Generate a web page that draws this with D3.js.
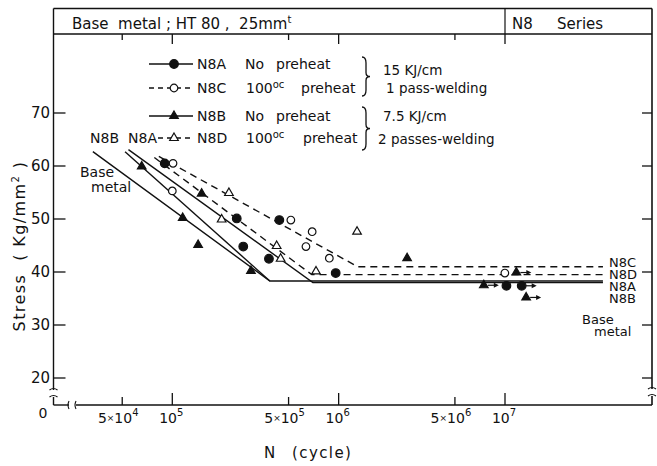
<!DOCTYPE html>
<html><head><meta charset="utf-8">
<script src="https://cdn.jsdelivr.net/npm/d3@7"></script>
<style>
html,body{margin:0;padding:0;background:#fff;}
svg text{font-family:"DejaVu Sans",sans-serif;fill:#111;white-space:pre;}
</style></head>
<body><svg id="c" width="657" height="466"></svg>
<script>
// ---------------- data ----------------
const xTickValues = [5e4, 1e5, 5e5, 1e6, 5e6, 1e7];
const xTickMant = ["5", "", "5", "", "5", ""];
const xTickExp = ["4", "5", "5", "6", "6", "7"];
const yTickValues = [20, 30, 40, 50, 60, 70];

// N8A : 15 KJ/cm, no preheat (filled circles)
const n8aN = [9.0e4, 2.44e5, 4.4e5, 2.67e5, 3.81e5, 9.6e5, 1.02e7, 1.26e7];
const n8aS = [60.5, 50.1, 49.8, 44.8, 42.5, 39.8, 37.4, 37.4];
const n8aRun = [0, 0, 0, 0, 0, 0, 0, 1];
// N8C : 15 KJ/cm, 100C preheat (open circles)
const n8cN = [1.01e5, 1.0e5, 5.16e5, 6.93e5, 6.36e5, 8.79e5, 9.98e6];
const n8cS = [60.5, 55.3, 49.8, 47.6, 44.8, 42.6, 39.8];
const n8cRun = [0, 0, 0, 0, 0, 0, 0];
// N8B : 7.5 KJ/cm, no preheat (filled triangles)
const n8bN = [6.55e4, 1.5e5, 1.155e5, 1.43e5, 2.97e5, 2.58e6, 7.46e6, 1.17e7, 1.34e7];
const n8bS = [59.9, 54.8, 50.2, 45.1, 40.2, 42.6, 37.5, 39.9, 35.2];
const n8bRun = [0, 0, 0, 0, 0, 0, 1, 1, 1];
// N8D : 7.5 KJ/cm, 100C preheat (open triangles)
const n8dN = [2.19e5, 1.98e5, 1.29e6, 4.24e5, 4.48e5, 7.31e5];
const n8dS = [54.9, 49.9, 47.6, 44.9, 42.5, 40.1];
const n8dRun = [0, 0, 0, 0, 0, 0];

// S-N curves
const baseLineN = [3.33e4, 3.86e5, 3.88e7];
const baseLineS = [62.7, 38.3, 38.3];
const n8bLineN = [5.2e4, 3.86e5];
const n8bLineS = [62.7, 38.3];
const n8aLineN = [5.45e4, 7.0e5, 3.88e7];
const n8aLineS = [63.1, 38.0, 38.0];
const n8cLineN = [8.3e4, 1.3e6, 3.88e7];
const n8cLineS = [61.8, 41.0, 41.0];
const n8dLineN = [7.8e4, 6.9e5, 3.88e7];
const n8dLineS = [61.6, 39.5, 39.5];

// ---------------- layout ----------------
const svg = d3.select("#c");
const L = 53.5, R = 652, T = 8.5, HB = 34, B = 405;
const x = d3.scaleLog().domain([1e5, 1e7]).range([172.3, 505]);
const y = d3.scaleLinear().domain([20, 70]).range([378, 113]);
const ink = "#111";

const g = svg.append("g");
function ln(x1, y1, x2, y2, w) {
  g.append("line").attr("x1", x1).attr("y1", y1).attr("x2", x2).attr("y2", y2)
    .attr("stroke", ink).attr("stroke-width", w || 1.3);
}
// frame
ln(L, T, R, T, 1.4);
ln(L, HB, R, HB, 1.4);
ln(L, T, L, 390, 1.4); ln(L, 397, L, B, 1.4);
ln(R, T, R, 389, 1.6); ln(R, 396, R, B, 1.6);
ln(L, B, 69, B, 1.4); ln(76, B, R, B, 1.4);
ln(x(1e7), T, x(1e7), HB, 1.2);
// breaks
g.append("path").attr("d", `M${L-4},390 q4,-3 8,0 M${L-4},397 q4,-3 8,0`).attr("fill","none").attr("stroke",ink).attr("stroke-width",1.1);
g.append("path").attr("d", `M${R-4},389 q4,-3 8,0 M${R-4},396 q4,-3 8,0`).attr("fill","none").attr("stroke",ink).attr("stroke-width",1.1);
g.append("path").attr("d", `M69,${B-4} q-2,4 0,8 M76,${B-4} q-2,4 0,8`).attr("fill","none").attr("stroke",ink).attr("stroke-width",1.1);

// header
const ht = svg.append("text").attr("x", 72).attr("y", 29).attr("font-size", 15);
ht.append("tspan").text("Base  metal ; HT 80 ,  25mm");
ht.append("tspan").attr("font-size", 10).attr("dy", -6).text("t");
svg.append("text").attr("x", 512).attr("y", 29).attr("font-size", 15).text("N8");
svg.append("text").attr("x", 557).attr("y", 29).attr("font-size", 15).text("Series");

// x ticks (bottom & top)
xTickValues.forEach((v, i) => {
  const xx = x(v), len = xTickMant[i] ? 8 : 12;
  ln(xx, B, xx, B - len, 1.3);
  ln(xx, HB, xx, HB + len - 2, 1.3);
  const t = svg.append("text").attr("x", xx - (xTickMant[i] ? 4 : 1)).attr("y", 423)
    .attr("font-size", 14).attr("text-anchor", "middle");
  if (xTickMant[i]) {
    t.append("tspan").text(xTickMant[i]);
    t.append("tspan").attr("font-size", 9).attr("dy", -2).text("×");
    t.append("tspan").attr("dy", 2).text("10");
  } else t.append("tspan").text("10");
  t.append("tspan").attr("font-size", 10).attr("dy", -7).text(xTickExp[i]);
});
svg.append("text").attr("x", 43).attr("y", 418).attr("font-size", 14).attr("text-anchor", "middle").text("0");

// y ticks
yTickValues.forEach(v => {
  ln(L, y(v), L + 12, y(v), 1.3);
  ln(R - 10, y(v), R, y(v), 1.3);
  svg.append("text").attr("x", 50).attr("y", y(v) + 5).attr("font-size", 15)
    .attr("text-anchor", "end").text(v);
});

// axis titles
const yt = svg.append("text").attr("transform", "translate(25,246) rotate(-90)")
  .attr("font-size", 16).attr("letter-spacing", 1.4).attr("text-anchor", "middle");
yt.append("tspan").text("Stress  ( Kg/mm");
yt.append("tspan").attr("font-size", 10).attr("dy", -6).text("2");
yt.append("tspan").attr("dy", 6).text(" )");
svg.append("text").attr("x", 264).attr("y", 458).attr("font-size", 15).text("N");
svg.append("text").attr("x", 292).attr("y", 458).attr("font-size", 15)
  .attr("letter-spacing", 1.4).text("(cycle)");

// curves
const lineGen = d3.line().x(d => x(d[0])).y(d => y(d[1]));
function curve(N, S, dashed) {
  svg.append("path").datum(N.map((n, i) => [n, S[i]])).attr("d", lineGen)
    .attr("fill", "none").attr("stroke", ink).attr("stroke-width", 1.4)
    .attr("stroke-dasharray", dashed ? "7,5" : null);
}
curve(baseLineN, baseLineS, false);
curve(n8bLineN, n8bLineS, false);
curve(n8aLineN, n8aLineS, false);
curve(n8cLineN, n8cLineS, true);
curve(n8dLineN, n8dLineS, true);

// markers
const tri = d3.symbol().type(d3.symbolTriangle).size(32);
function marker(sel, kind) {
  if (kind === "fc" || kind === "oc") {
    sel.append("circle").attr("r", kind === "fc" ? 4.3 : 3.8)
      .attr("fill", kind === "fc" ? ink : "#fff").attr("stroke", ink).attr("stroke-width", 1.2);
  } else {
    sel.append("path").attr("d", tri).attr("fill", kind === "ft" ? ink : "#fff")
      .attr("stroke", ink).attr("stroke-width", 1.2);
  }
}
function series(N, S, run, kind) {
  N.forEach((n, i) => {
    const px = x(n), py = y(S[i]);
    if (run[i]) {
      ln(px + 4, py, px + 13, py, 1.2);
      svg.append("path").attr("d", `M${px+15},${py} l-5,-2.5 l0,5 z`).attr("fill", ink);
    }
    marker(svg.append("g").attr("transform", `translate(${px},${py})`), kind);
  });
}
series(n8dN, n8dS, n8dRun, "ot");
series(n8cN, n8cS, n8cRun, "oc");
series(n8bN, n8bS, n8bRun, "ft");
series(n8aN, n8aS, n8aRun, "fc");

// legend
const legRows = [
  {y: 64, kind: "fc", dash: false, x1: 149, name: "N8A", a: "No", ax: 245, b: "preheat", bx: 276},
  {y: 88, kind: "oc", dash: true, x1: 149, name: "N8C", a: "100", ax: 246, b: "preheat", bx: 301},
  {y: 116, kind: "ft", dash: false, x1: 149, name: "N8B", a: "No", ax: 245, b: "preheat", bx: 276},
  {y: 138, kind: "ot", dash: true, x1: 158, name: "N8D", a: "100", ax: 246, b: "preheat", bx: 303}
];
legRows.forEach(r => {
  svg.append("line").attr("x1", r.x1).attr("x2", 193).attr("y1", r.y).attr("y2", r.y)
    .attr("stroke", ink).attr("stroke-width", 1.3).attr("stroke-dasharray", r.dash ? "5,4" : null);
  marker(svg.append("g").attr("transform", `translate(174,${r.y})`), r.kind);
  svg.append("text").attr("x", 197).attr("y", r.y + 5).attr("font-size", 14).text(r.name);
  const t = svg.append("text").attr("x", r.ax).attr("y", r.y + 5).attr("font-size", 14);
  t.append("tspan").text(r.a);
  if (r.a === "100") t.append("tspan").attr("font-size", 10).attr("dy", -5).text("oc");
  svg.append("text").attr("x", r.bx).attr("y", r.y + 5).attr("font-size", 14).text(r.b);
});
function brace(x0, y0, y1) {
  const ym = (y0 + y1) / 2;
  svg.append("path").attr("d",
    `M${x0},${y0} Q${x0+4},${y0} ${x0+4},${y0+6} L${x0+4},${ym-4} Q${x0+4},${ym} ${x0+8},${ym} Q${x0+4},${ym} ${x0+4},${ym+4} L${x0+4},${y1-6} Q${x0+4},${y1} ${x0},${y1}`)
    .attr("fill", "none").attr("stroke", ink).attr("stroke-width", 1.3);
}
brace(362, 57, 96);
brace(362, 107, 150);
[["15 KJ/cm", 383, 75], ["1 pass-welding", 386, 93], ["7.5 KJ/cm", 383, 121], ["2 passes-welding", 378, 144]]
  .forEach(d => svg.append("text").attr("x", d[1]).attr("y", d[2]).attr("font-size", 13.5).text(d[0]));

// curve labels
[["N8B", 90, 143, 14], ["N8A", 128, 143, 14], ["Base", 80, 177, 14], ["metal", 91, 192, 14],
 ["N8C", 609, 267, 13], ["N8D", 609, 279, 13], ["N8A", 609, 291, 13], ["N8B", 609, 303, 13],
 ["Base", 582, 324, 13], ["metal", 594, 336, 13]]
  .forEach(d => svg.append("text").attr("x", d[1]).attr("y", d[2]).attr("font-size", d[3]).text(d[0]));
</script></body></html>
